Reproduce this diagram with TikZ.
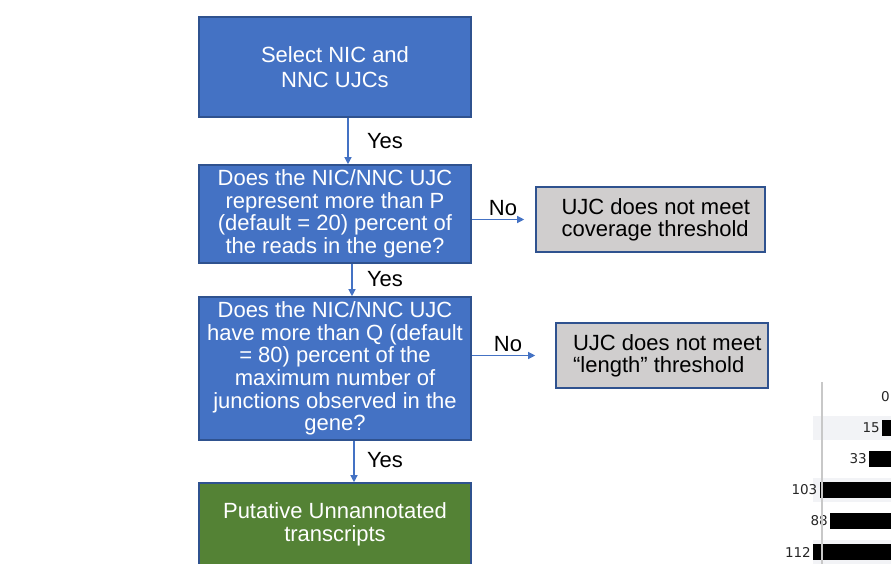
\documentclass[tikz,border=0pt]{standalone}
\usepackage{fontspec}
\setmainfont{Liberation Sans}
\newfontfamily\chartfont{DejaVu Sans}
\usetikzlibrary{arrows.meta}
\definecolor{boxblue}{HTML}{4472C4}
\definecolor{edgeblue}{HTML}{2F528F}
\definecolor{boxgray}{HTML}{D0CECE}
\definecolor{boxgreen}{HTML}{548235}
\definecolor{bandgray}{HTML}{F2F3F6}
\definecolor{axisgray}{HTML}{C8C8C8}
\definecolor{labelink}{HTML}{262626}
\newcommand{\gind}{\hspace*{10.5pt}}
\begin{document}
\begin{tikzpicture}[x=1pt,y=-1pt,
  flowbox/.style={draw=edgeblue, line width=1.6pt, minimum width=272pt, inner sep=0pt,
    align=center, text=white, font=\fontsize{22}{22.6}\selectfont},
  bluebox/.style={flowbox, fill=boxblue},
  greenbox/.style={flowbox, fill=boxgreen, font=\fontsize{22}{23}\selectfont},
  graybox/.style={draw=edgeblue, line width=1.6pt, fill=boxgray, inner sep=0pt,
    align=left, text=black, font=\fontsize{22}{22}\selectfont},
  lbl/.style={inner sep=0pt, text=black, font=\fontsize{22}{22}\selectfont},
  conn/.style={draw=boxblue, line width=1.2pt, -{Triangle[length=7pt,width=7pt]}},
  bar/.style={fill=black, draw=none},
  band/.style={fill=bandgray, draw=none},
  num/.style={inner sep=0pt, anchor=east, text=labelink, font=\chartfont\fontsize{13.5}{14}\selectfont}
]
\useasboundingbox (0,0) rectangle (891,564);
\clip (0,0) rectangle (891,564);

% flow chart boxes
\node[bluebox, minimum height=100pt, font=\fontsize{22}{25}\selectfont] (b1) at (335,67)
  {Select NIC and\\NNC UJCs};
\node[bluebox, minimum height=98pt] (b2) at (335,214)
  {Does the NIC/NNC UJC\\represent more than P\\(default = 20) percent of\\the reads in the gene?};
\node[bluebox, minimum height=143pt] (b3) at (335,368.5)
  {Does the NIC/NNC UJC\\have more than Q (default\\= 80) percent of the\\maximum number of\\junctions observed in the\\gene?};
\node[greenbox, minimum height=83pt] (b4) at (335,524.5)
  {Putative Unnannotated\\transcripts};
\node[graybox, minimum width=229pt, minimum height=65pt] (g1) at (650.5,219.5)
  {\gind UJC does not meet\\\gind coverage threshold};
\node[graybox, minimum width=212pt, minimum height=65pt] (g2) at (662,355.5)
  {\gind UJC does not meet\\\gind “length” threshold};

% connectors
\draw[conn] ([xshift=13pt]b1.south) -- ([xshift=13pt]b2.north);
\draw[conn] ([xshift=17pt]b2.south) -- ([xshift=17pt]b3.north);
\draw[conn] ([xshift=19pt]b3.south) -- ([xshift=19pt]b4.north);
\draw[conn] (b2.east |- g1.west) -- ([xshift=-11pt]g1.west);
\draw[conn] (b3.east |- g2.west) -- ([xshift=-20pt]g2.west);

% labels
\node[lbl] (y1) at (385,141) {Yes};
\node[lbl] (y2) at (385,279) {Yes};
\node[lbl] (y3) at (385,460) {Yes};
\node[lbl] (n1) at (503,208) {No};
\node[lbl] (n2) at (508,344) {No};

% partial bar chart on the right
\fill[band] (813,416) rectangle (891,440);
\fill[band] (813,478) rectangle (891,502);
\fill[band] (813,540) rectangle (891,564);

\fill[bar] (882.0,420) rectangle (892.7,436);
\fill[bar] (869.2,451) rectangle (892.7,467);
\fill[bar] (819.5,482) rectangle (892.7,498);
\fill[bar] (830.1,513) rectangle (892.7,529);
\fill[bar] (813.1,544) rectangle (892.7,560);

\node[num] (v0) at (890,397) {0};
\node[num] (v1) at (880,428) {15};
\node[num] (v2) at (867,459) {33};
\node[num] (v3) at (817.5,490) {103};
\node[num] (v4) at (828,521) {88};
\node[num] (v5) at (811,552) {112};

\draw[axisgray, line width=1.4pt] (822,382) -- (822,564);
\end{tikzpicture}
\end{document}
